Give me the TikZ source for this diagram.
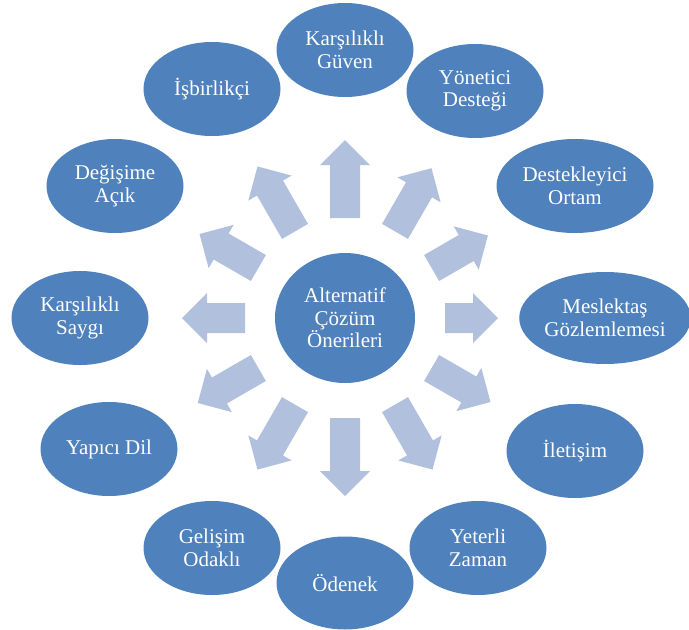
\documentclass[tikz,border=0pt]{standalone}
\usepackage{fontspec}
\setmainfont{Liberation Serif}
\usetikzlibrary{shapes.geometric}
\definecolor{ellblue}{HTML}{4F81BD}
\definecolor{arrblue}{HTML}{B1C1DD}
\begin{document}
\begin{tikzpicture}[x=1pt,y=-1pt,
  bubble/.style={ellipse, fill=ellblue, text=white, inner sep=0pt, align=center,
    font=\fontsize{21}{22.5}\selectfont, minimum width=137pt, minimum height=94pt},
  blockarrow/.style={fill=arrblue}]
\useasboundingbox (0,0) rectangle (689,630);
% block arrows radiating from the centre
\foreach \a/\L in {0/53,30/65,60/73,90/78,120/75,150/68,180/63,210/70,240/75,270/78,300/75,330/68}{
  \begin{scope}[shift={(345,318)}, rotate=\a]
    \fill[blockarrow] (100,-15) -- ({100+\L-25},-15) -- ({100+\L-25},-25) -- ({100+\L},0)
      -- ({100+\L-25},25) -- ({100+\L-25},15) -- (100,15) -- cycle;
  \end{scope}
}
% centre
\node[bubble, minimum width=140pt, minimum height=130pt] (c) at (345,318) {Alternatif\\Çözüm\\Önerileri};
% outer bubbles
\node[bubble] (n1) at (345,50) {Karşılıklı\\Güven};
\node[bubble] (n2) at (475,91) {Yönetici\\Desteği};
\node[bubble, minimum width=157pt] (n3) at (575,186) {Destekleyici\\Ortam};
\node[bubble, minimum width=164pt, minimum height=92pt] (n4) at (605,318) {Meslektaş\\Gözlemlemesi};
\node[bubble] (n5) at (575,451) {İletişim};
\node[bubble] (n6) at (478,548) {Yeterli\\Zaman};
\node[bubble, minimum height=93pt] (n7) at (345,583) {Ödenek};
\node[bubble] (n8) at (212,548) {Gelişim\\Odaklı};
\node[bubble] (n9) at (109,449) {Yapıcı Dil};
\node[bubble] (n10) at (80,318) {Karşılıklı\\Saygı};
\node[bubble] (n11) at (115,186) {Değişime\\Açık};
\node[bubble] (n12) at (212,89) {İşbirlikçi};
\end{tikzpicture}
\end{document}
